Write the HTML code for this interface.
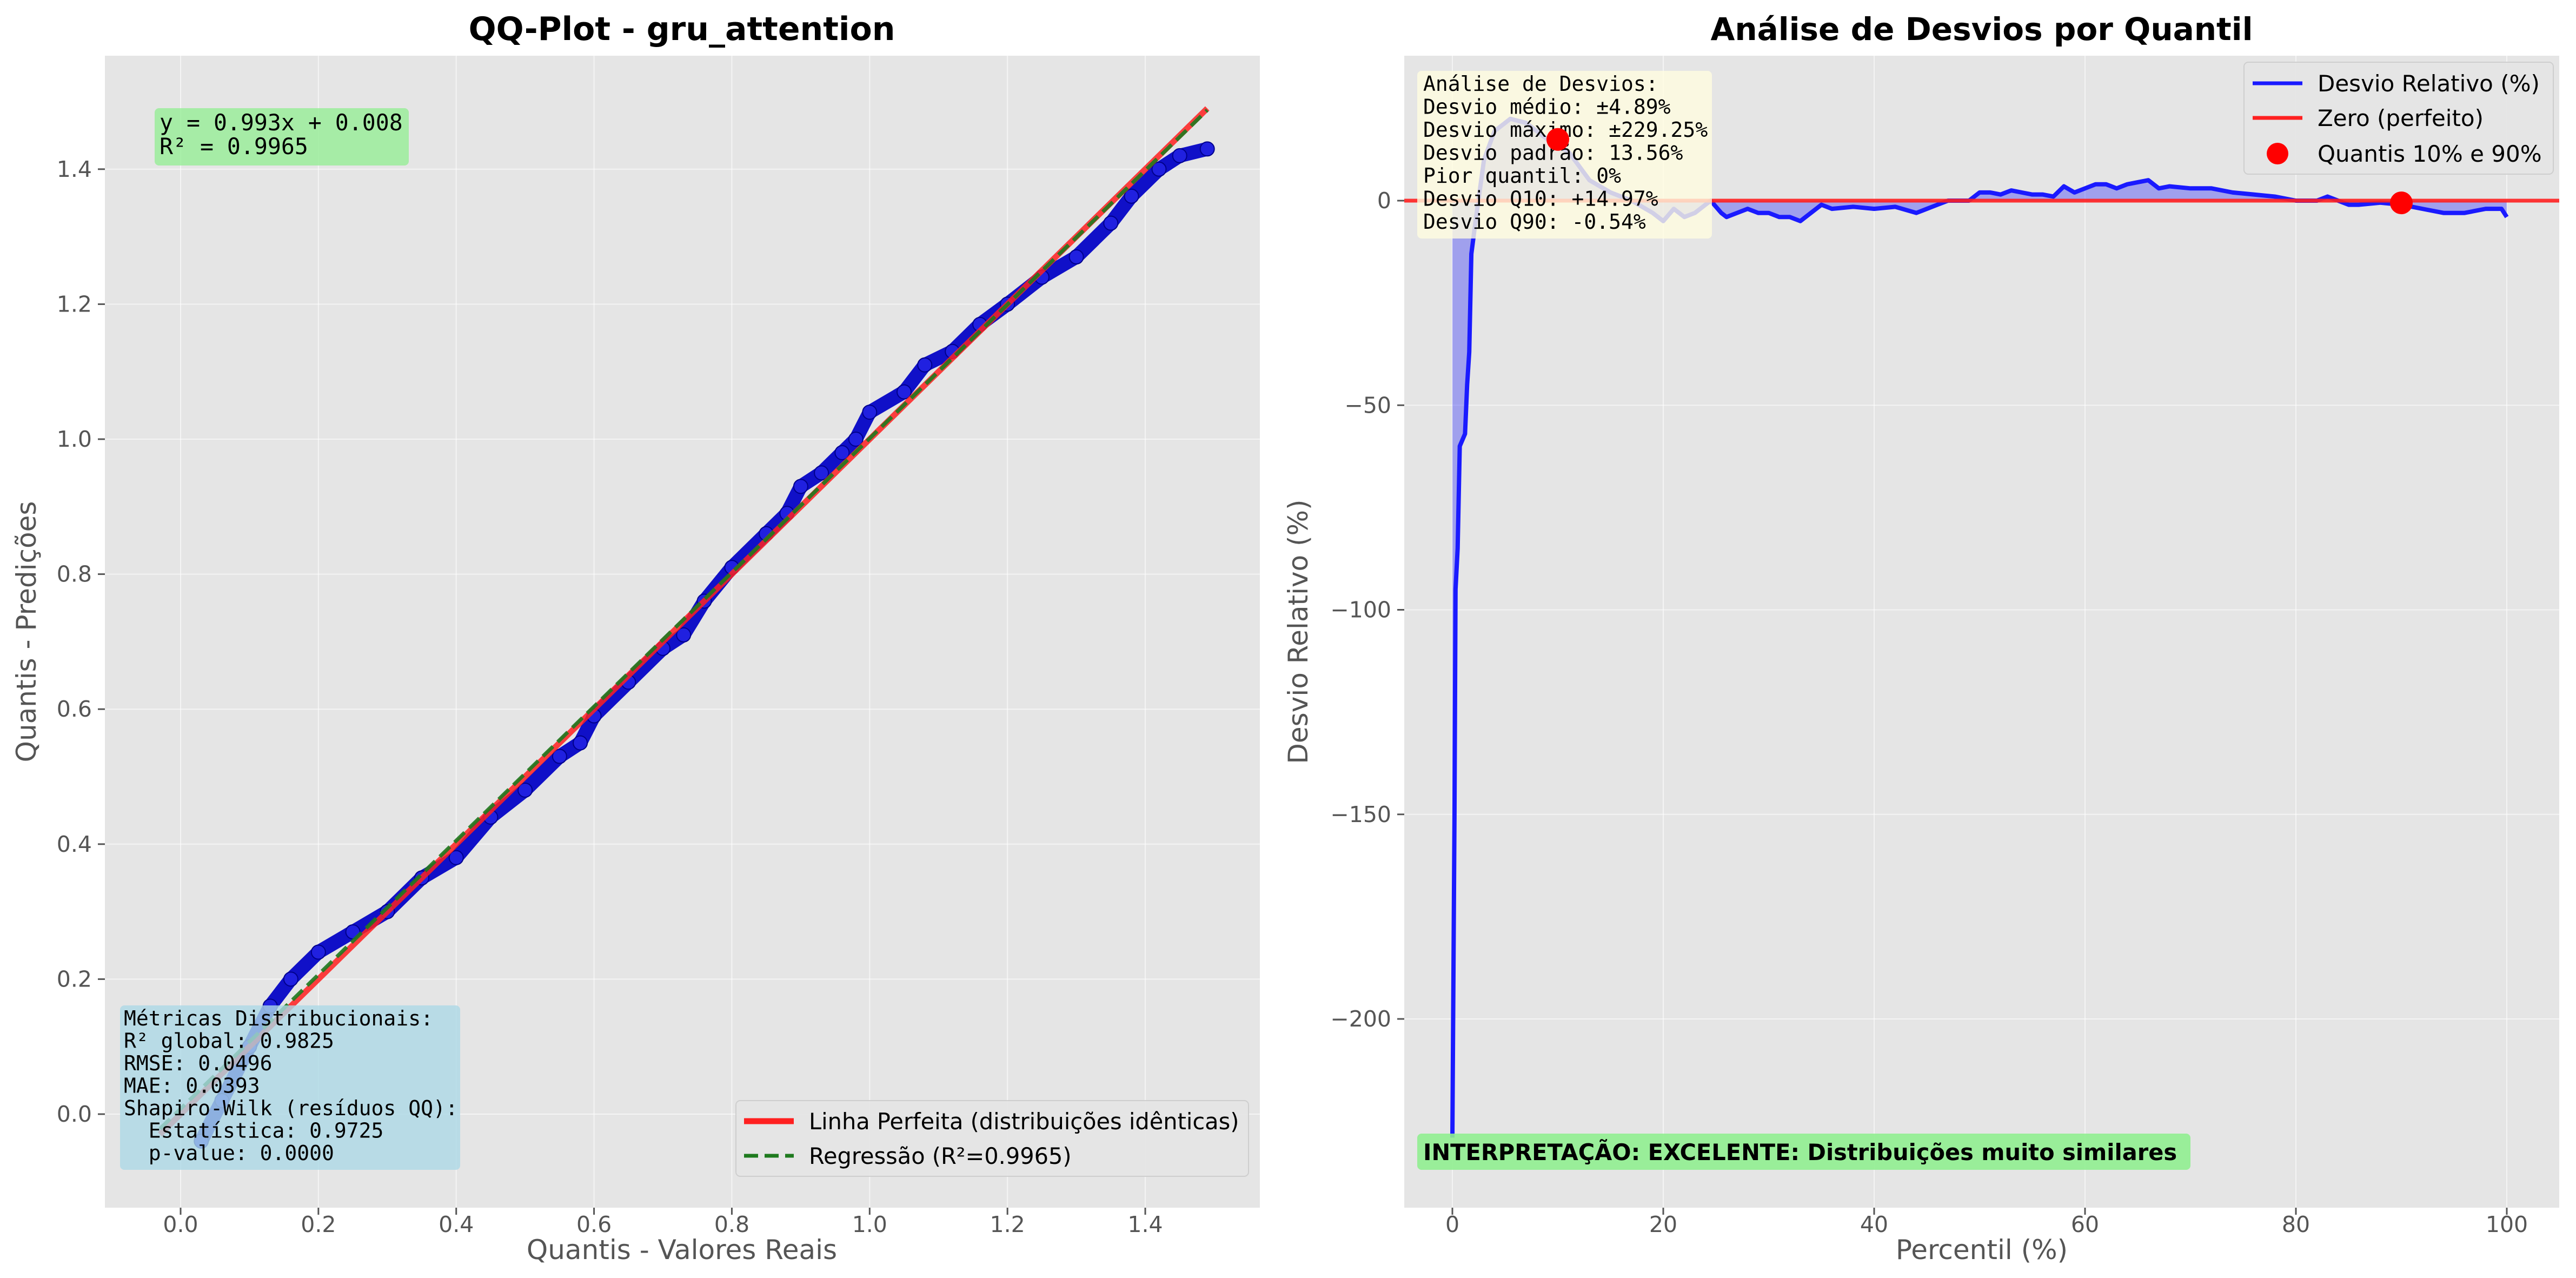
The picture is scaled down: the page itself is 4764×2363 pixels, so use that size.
<!DOCTYPE html>
<html><head><meta charset="utf-8"><style>
html,body{margin:0;padding:0;background:#fff;}
svg{display:block;font-family:"DejaVu Sans","Liberation Sans",sans-serif;}
.mono{font-family:"DejaVu Sans Mono","Liberation Mono",monospace;white-space:pre;}
</style></head><body>
<svg id="fig" width="4764" height="2363" viewBox="0 0 4764 2363" xmlns="http://www.w3.org/2000/svg">
<g id="left"></g>
<g id="right"></g>
</svg>
<script>
// ---- QQ data ----
const qqReal = [0.03,0.06,0.10,0.13,0.16,0.20,0.25,0.30,0.35,0.40,0.45,0.50,0.55,0.58,0.60,0.65,0.70,0.73,0.76,0.80,0.85,0.88,0.90,0.93,0.96,0.98,1.00,1.05,1.08,1.12,1.16,1.20,1.25,1.30,1.35,1.38,1.42,1.45,1.49];
const qqPred = [-0.04,0.02,0.10,0.16,0.20,0.24,0.27,0.30,0.35,0.38,0.44,0.48,0.53,0.55,0.59,0.64,0.69,0.71,0.76,0.81,0.86,0.89,0.93,0.95,0.98,1.00,1.04,1.07,1.11,1.13,1.17,1.20,1.24,1.27,1.32,1.36,1.40,1.42,1.43];
const qqTicksX = [0.0,0.2,0.4,0.6,0.8,1.0,1.2,1.4];
const qqTicksY = [0.0,0.2,0.4,0.6,0.8,1.0,1.2,1.4];
const regSlope = 0.993, regIntercept = 0.008;
const lineRange = [-0.03, 1.49];
// ---- Deviation data ----
const devPct = [0,0.2,0.3,0.5,0.7,1.2,1.4,1.6,1.8,2.2,3,4,5.5,7,9,11,13,15,17,19,20,21,22,23,24.5,25.5,26,27,28,29,30,31,32,33,34,35,36,38,40,42,44,45,46,47,48,49,50,51,52,53,54,55,56,57,58,59,60,61,62,63,64,65,66,67,68,70,72,74,76,78,80,82,83,84,85,86,88,90,92,94,96,98,99,99.5,100];
const devVal = [-229,-150,-95,-85,-60,-57,-45,-37,-13,-5,10,17,20,19,15,12,5,2,0,-3,-5,-2,-4,-3,0,-3,-4,-3,-2,-3,-3,-4,-4,-5,-3,-1,-2,-1.5,-2,-1.5,-3,-2,-1,0,0,0,2,2,1.5,2.5,2,1.5,1.5,1,3.5,2,3,4,4,3,4,4.5,5,3,3.5,3,3,2,1.5,1,0,0,1,0,-1,-1,-0.5,-1,-2,-3,-3,-2,-2,-2,-4];
const devTicksX = [0,20,40,60,80,100];
const devTicksY = [0,-50,-100,-150,-200];
const qMarkPct = [10,90];
const qMarkVal = [14.97,-0.54];

const NS="http://www.w3.org/2000/svg";
function mk(parent,tag,attrs,text){const e=document.createElementNS(NS,tag);for(const k in attrs)e.setAttribute(k,attrs[k]);if(text!==undefined)e.textContent=text;parent.appendChild(e);return e;}
const TOP=103,BOT=2233,TICKY=2278,TITLEY=2328;

// ===== LEFT =====
const L=document.getElementById('left');
const lx=v=>334+v*1274.3, ly=v=>2060-v*1248;
let e;
e=mk(L,'rect',{x:194,y:TOP,width:2136,height:BOT-TOP,fill:'#e5e5e5'});


qqTicksX.forEach(t=>{
 e=mk(L,'line',{x1:lx(t),x2:lx(t),y1:TOP,y2:BOT,stroke:'#fff','stroke-width':2,opacity:0.6});
 
 mk(L,'line',{x1:lx(t),x2:lx(t),y1:BOT,y2:BOT+13,stroke:'#555','stroke-width':3});
 e=mk(L,'text',{x:lx(t),y:TICKY,'text-anchor':'middle','font-size':41,fill:'#555'},t.toFixed(1));
 
});
qqTicksY.forEach(t=>{
 e=mk(L,'line',{x1:194,x2:2330,y1:ly(t),y2:ly(t),stroke:'#fff','stroke-width':2,opacity:0.6});
 
 mk(L,'line',{x1:181,x2:194,y1:ly(t),y2:ly(t),stroke:'#555','stroke-width':3});
 e=mk(L,'text',{x:170,y:ly(t)+14,'text-anchor':'end','font-size':41,fill:'#555'},t.toFixed(1));
 
});
const pts=qqReal.map((x,i)=>lx(x)+','+ly(qqPred[i])).join(' ');
e=mk(L,'polyline',{points:pts,fill:'none',stroke:'#1010c8','stroke-width':26,'stroke-linejoin':'round','stroke-linecap':'round'});

qqReal.forEach((x,i)=>{e=mk(L,'circle',{cx:lx(x),cy:ly(qqPred[i]),r:13,fill:'#2020e0',stroke:'#00008b','stroke-width':2});
 });
e=mk(L,'line',{x1:lx(lineRange[0]),y1:ly(lineRange[0]),x2:lx(lineRange[1]),y2:ly(lineRange[1]),stroke:'#ff2020','stroke-width':11,opacity:0.85});

e=mk(L,'line',{x1:lx(lineRange[0]),y1:ly(regSlope*lineRange[0]+regIntercept),x2:lx(lineRange[1]),y2:ly(regSlope*lineRange[1]+regIntercept),stroke:'#1e7a1e','stroke-width':7,'stroke-dasharray':'26 12',opacity:0.9});

e=mk(L,'rect',{x:286,y:200,width:470,height:106,rx:8,fill:'#90ee90',opacity:0.75});

[['y = 0.993x + 0.008',241],['R² = 0.9965',285]].forEach(([t,y])=>{e=mk(L,'text',{x:295,y:y,'font-size':41.5,class:'mono',fill:'#000'},t);});
e=mk(L,'rect',{x:222,y:1859,width:629,height:304,rx:8,fill:'#add8e6',opacity:0.8});

['Métricas Distribucionais:','R² global: 0.9825','RMSE: 0.0496','MAE: 0.0393','Shapiro-Wilk (resíduos QQ):','  Estatística: 0.9725','  p-value: 0.0000'].forEach((t,i)=>{
 e=mk(L,'text',{x:229,y:1896+i*41.5,'font-size':38,class:'mono',fill:'#000'},t);
 });
e=mk(L,'rect',{x:1361,y:2035,width:948,height:140,rx:8,fill:'#e5e5e5',stroke:'#ccc','stroke-width':2,opacity:0.9});

mk(L,'line',{x1:1376,x2:1468,y1:2073,y2:2073,stroke:'#ff2020','stroke-width':11});
e=mk(L,'text',{x:1496,y:2088,'font-size':41.5,fill:'#000'},'Linha Perfeita (distribuições idênticas)');
mk(L,'line',{x1:1376,x2:1468,y1:2137,y2:2137,stroke:'#1e7a1e','stroke-width':7,'stroke-dasharray':'26 12'});
e=mk(L,'text',{x:1496,y:2152,'font-size':41.5,fill:'#000'},'Regressão (R²=0.9965)');
e=mk(L,'text',{x:1261,y:74,'text-anchor':'middle','font-size':60,'font-weight':'bold',fill:'#000'},'QQ-Plot - gru_attention');
e=mk(L,'text',{x:1261,y:TITLEY,'text-anchor':'middle','font-size':50,fill:'#555'},'Quantis - Valores Reais');
e=mk(L,'text',{x:66,y:1168,'text-anchor':'middle','font-size':50,fill:'#555',transform:'rotate(-90 66 1168)'},'Quantis - Predições');

// ===== RIGHT =====
const R=document.getElementById('right');
const rx=v=>2686+v*19.5, ry=v=>371-v*7.565;
e=mk(R,'rect',{x:2597,y:TOP,width:2136,height:BOT-TOP,fill:'#e5e5e5'});

devTicksX.forEach(t=>{
 e=mk(R,'line',{x1:rx(t),x2:rx(t),y1:TOP,y2:BOT,stroke:'#fff','stroke-width':2,opacity:0.6});
 
 mk(R,'line',{x1:rx(t),x2:rx(t),y1:BOT,y2:BOT+13,stroke:'#555','stroke-width':3});
 e=mk(R,'text',{x:rx(t),y:TICKY,'text-anchor':'middle','font-size':41,fill:'#555'},String(t));
 
});
devTicksY.forEach(t=>{
 e=mk(R,'line',{x1:2597,x2:4733,y1:ry(t),y2:ry(t),stroke:'#fff','stroke-width':2,opacity:0.6});
 
 mk(R,'line',{x1:2584,x2:2597,y1:ry(t),y2:ry(t),stroke:'#555','stroke-width':3});
 e=mk(R,'text',{x:2573,y:ry(t)+14,'text-anchor':'end','font-size':41,fill:'#555'},t===0?'0':'\u2212'+Math.abs(t));
 
});
const dline=devPct.map((p,i)=>rx(p)+','+ry(devVal[i])).join(' ');
e=mk(R,'polygon',{points:rx(devPct[0])+','+ry(0)+' '+dline+' '+rx(devPct[devPct.length-1])+','+ry(0),fill:'#0000ff','fill-opacity':0.3});

e=mk(R,'polyline',{points:dline,fill:'none',stroke:'#1a1aff','stroke-width':8,'stroke-linejoin':'round'});

e=mk(R,'line',{x1:2597,x2:4733,y1:ry(0),y2:ry(0),stroke:'#ff2020','stroke-width':7,opacity:0.9});

e=mk(R,'rect',{x:2621,y:131,width:545,height:310,rx:8,fill:'#fffde0',opacity:0.8});

['Análise de Desvios:','Desvio médio: ±4.89%','Desvio máximo: ±229.25%','Desvio padrão: 13.56%','Pior quantil: 0%','Desvio Q10: +14.97%','Desvio Q90: -0.54%'].forEach((t,i)=>{
 e=mk(R,'text',{x:2632,y:168+i*42.5,'font-size':38,class:'mono',fill:'#000'},t);
 });
qMarkPct.forEach((p,i)=>{e=mk(R,'circle',{cx:rx(p),cy:ry(qMarkVal[i]),r:21,fill:'#ff0000'});
 });
e=mk(R,'rect',{x:4150,y:115,width:572,height:207,rx:8,fill:'#e5e5e5',stroke:'#ccc','stroke-width':2,opacity:0.9});

mk(R,'line',{x1:4166,x2:4258,y1:154,y2:154,stroke:'#1a1aff','stroke-width':7});
e=mk(R,'text',{x:4286,y:169,'font-size':42,fill:'#000'},'Desvio Relativo (%)');
mk(R,'line',{x1:4166,x2:4258,y1:218,y2:218,stroke:'#ff2020','stroke-width':7});
e=mk(R,'text',{x:4286,y:233,'font-size':42,fill:'#000'},'Zero (perfeito)');
mk(R,'circle',{cx:4212,cy:284,r:20,fill:'#ff0000'});
e=mk(R,'text',{x:4286,y:299,'font-size':42,fill:'#000'},'Quantis 10% e 90%');
e=mk(R,'rect',{x:2621,y:2096,width:1430,height:67,rx:8,fill:'#90ee90',opacity:0.9});

e=mk(R,'text',{x:2632,y:2145,'font-size':41.5,'font-weight':'bold',fill:'#000'},'INTERPRETAÇÃO: EXCELENTE: Distribuições muito similares');
e=mk(R,'text',{x:3665,y:74,'text-anchor':'middle','font-size':58,'font-weight':'bold',fill:'#000'},'Análise de Desvios por Quantil');
e=mk(R,'text',{x:3665,y:TITLEY,'text-anchor':'middle','font-size':50,fill:'#555'},'Percentil (%)');
e=mk(R,'text',{x:2418,y:1168,'text-anchor':'middle','font-size':50,fill:'#555',transform:'rotate(-90 2418 1168)'},'Desvio Relativo (%)');
</script>
</body></html>
